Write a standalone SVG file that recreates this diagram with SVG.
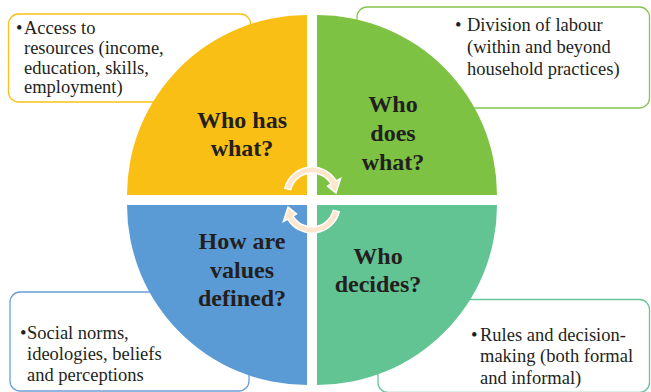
<svg xmlns="http://www.w3.org/2000/svg" width="651" height="392" viewBox="0 0 651 392">
<style>
.box{fill:#fff;stroke-width:1.3}
.note{font-family:"Liberation Serif","Times New Roman",serif;font-size:18.5px;fill:#231F20}
.lab{font-family:"Liberation Serif","Times New Roman",serif;font-size:24px;font-weight:bold;fill:#231F20;text-anchor:middle}
.arr{fill:#FDE6CB;stroke:#fff;stroke-width:1.5}
</style>
<rect width="651" height="392" fill="#fff"/>
<g id="box-resources">
<rect class="box" x="8.5" y="14" width="242" height="88" rx="10" stroke="#F9C11A"/>
<text class="note"><tspan x="16" y="34">•</tspan><tspan x="24" y="34">Access to</tspan><tspan x="24" y="54">resources (income,</tspan><tspan x="24" y="73.5">education, skills,</tspan><tspan x="24" y="93">employment)</tspan></text>
</g>
<g id="box-labour">
<rect class="box" x="357" y="7" width="292.5" height="101" rx="10" stroke="#84C552"/>
<text class="note"><tspan x="455" y="31">•</tspan><tspan x="467" y="31">Division of labour</tspan><tspan x="467" y="53">(within and beyond</tspan><tspan x="467" y="75">household practices)</tspan></text>
</g>
<g id="box-norms">
<rect class="box" x="10" y="292" width="239" height="99" rx="10" stroke="#6A9FD8"/>
<text class="note"><tspan x="20" y="338.5">•</tspan><tspan x="27" y="338.5">Social norms,</tspan><tspan x="27" y="359.5">ideologies, beliefs</tspan><tspan x="27" y="380.5">and perceptions</tspan></text>
</g>
<g id="box-rules">
<rect class="box" x="378" y="299.5" width="271.5" height="93" rx="10" stroke="#6CC598"/>
<text class="note"><tspan x="471" y="340.5">•</tspan><tspan x="480" y="340.5">Rules and decision-</tspan><tspan x="480" y="362">making (both formal</tspan><tspan x="480" y="384">and informal)</tspan></text>
</g>
<g id="q-has">
<path d="M307,195 L127,195 A180,180 0 0 1 307,15 Z" fill="#FABF14"/>
<text class="lab"><tspan x="242" y="127.7">Who has</tspan><tspan x="242" y="155.7">what?</tspan></text>
</g>
<g id="q-does">
<path d="M317,195 L317,15 A180,180 0 0 1 497,195 Z" fill="#7DC242"/>
<text class="lab"><tspan x="393" y="112">Who</tspan><tspan x="393" y="141">does</tspan><tspan x="393" y="170">what?</tspan></text>
</g>
<g id="q-values">
<path d="M307,205 L307,385 A180,180 0 0 1 127,205 Z" fill="#5B9BD5"/>
<text class="lab"><tspan x="242" y="249.3">How are</tspan><tspan x="242" y="278">values</tspan><tspan x="242" y="306.3">defined?</tspan></text>
</g>
<g id="q-decides">
<path d="M317,205 L497,205 A180,180 0 0 1 317,385 Z" fill="#62C393"/>
<text class="lab"><tspan x="378" y="263.7">Who</tspan><tspan x="378" y="292">decides?</tspan></text>
</g>
<g id="connectors">
<path class="arr" d="M284.8,188.2 A28,28 0 0 1 336.2,181 L340.6,178.5 L335.9,192.9 L327.6,186 L331.1,184 A22,22 0 0 0 290.7,189.7 Z"/>
<path class="arr" transform="rotate(180 312 200)" d="M284.8,188.2 A28,28 0 0 1 336.2,181 L340.6,178.5 L335.9,192.9 L327.6,186 L331.1,184 A22,22 0 0 0 290.7,189.7 Z"/>
</g>
</svg>
